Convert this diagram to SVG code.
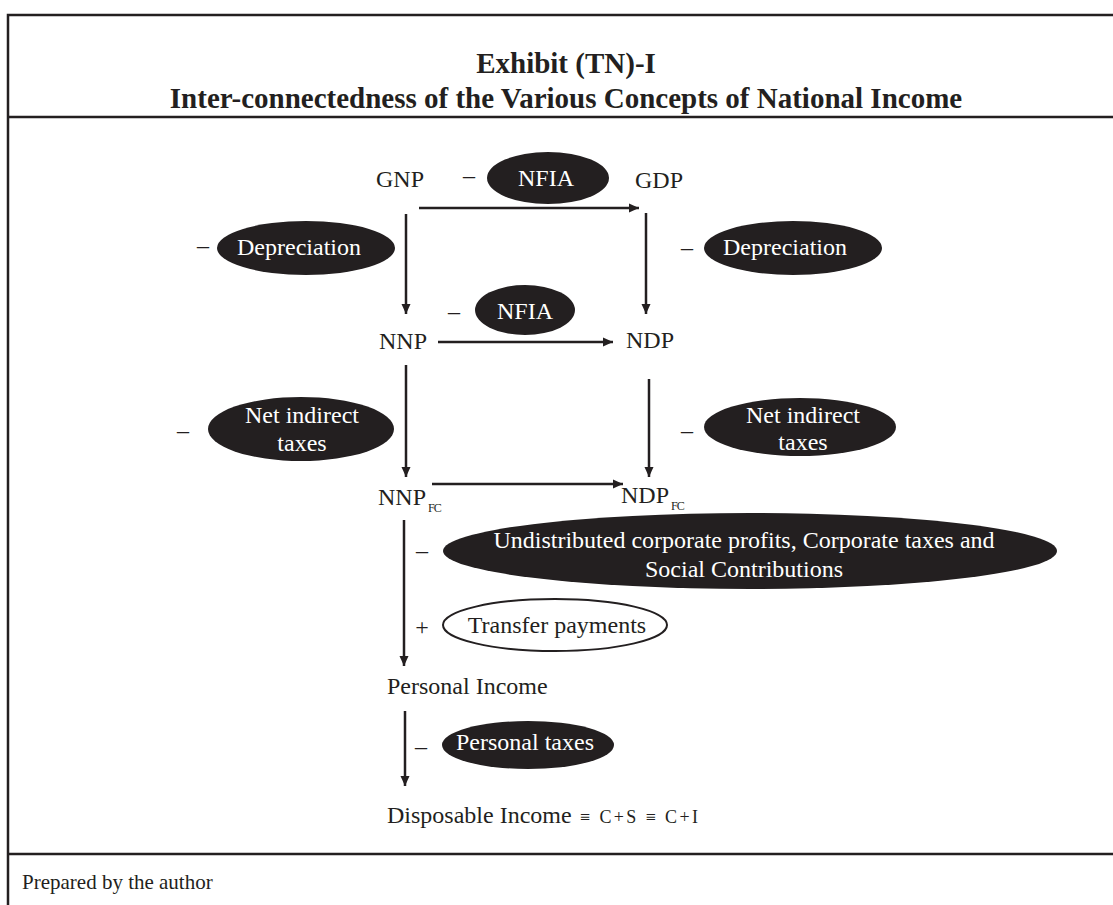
<svg xmlns="http://www.w3.org/2000/svg" width="1113" height="905" viewBox="0 0 1113 905">
<defs>
<marker id="ah" viewBox="0 0 10 10" refX="10" refY="5" markerWidth="10" markerHeight="10" markerUnits="userSpaceOnUse" orient="auto">
<path d="M0,0.5 L10,5 L0,9.5 Z" fill="#231f20"/>
</marker>
<style>
.frame{stroke:#231f20;stroke-width:2.5;fill:none}
.title{font-family:"Liberation Serif","Times New Roman",serif;font-weight:bold;font-size:29px;fill:#231f20;text-anchor:middle}
.t{font-family:"Liberation Serif","Times New Roman",serif;font-size:24px;fill:#231f20}
.sub{font-family:"Liberation Serif","Times New Roman",serif;font-size:12px;fill:#231f20;letter-spacing:-0.8px}
.w{font-family:"Liberation Serif","Times New Roman",serif;font-size:24px;fill:#ffffff;text-anchor:middle}
.d{text-anchor:middle}
.blob{fill:#231f20}
.open{fill:#ffffff;stroke:#231f20;stroke-width:2}
.con{stroke:#231f20;stroke-width:2.5;fill:none;marker-end:url(#ah)}
.foot{font-family:"Liberation Serif","Times New Roman",serif;font-size:21px;fill:#231f20}
.eq{font-family:"Liberation Serif","DejaVu Serif",serif;font-size:18px;fill:#231f20}
</style>
</defs>
<rect width="1113" height="905" fill="#ffffff"/>
<g id="frame">
<path class="frame" d="M8,905 V15 H1113 M8,117 H1113 M8,854 H1113"/>
<text class="title" x="566" y="73">Exhibit (TN)-I</text>
<text class="title" x="566" y="108">Inter-connectedness of the Various Concepts of National Income</text>
</g>
<g id="connectors">
<line class="con" x1="419" y1="208" x2="639" y2="208"/>
<line class="con" x1="406" y1="214" x2="406" y2="314"/>
<line class="con" x1="646" y1="213" x2="646" y2="314"/>
<line class="con" x1="438" y1="342" x2="613" y2="342"/>
<line class="con" x1="406" y1="365" x2="406" y2="477"/>
<line class="con" x1="649" y1="379" x2="649" y2="477"/>
<line class="con" x1="432" y1="484" x2="623" y2="484"/>
<line class="con" x1="404" y1="520" x2="404" y2="666"/>
<line class="con" x1="405" y1="711" x2="405" y2="786"/>
</g>
<g id="gnp"><text class="t" x="376" y="187">GNP</text></g>
<g id="gdp"><text class="t" x="635" y="188">GDP</text></g>
<g id="nnp"><text class="t" x="379" y="349">NNP</text></g>
<g id="ndp"><text class="t" x="626" y="348">NDP</text></g>
<g id="nnpfc"><text class="t" x="378" y="505">NNP</text><text class="sub" x="428" y="512">FC</text></g>
<g id="ndpfc"><text class="t" x="621" y="503">NDP</text><text class="sub" x="671" y="510">FC</text></g>
<g id="personal-income"><text class="t" x="387" y="694">Personal Income</text></g>
<g id="disposable-income"><text class="t" x="387" y="823">Disposable Income</text><text class="eq" x="580" y="823" textLength="118" lengthAdjust="spacing">≡ C+S ≡ C+I</text></g>
<g id="nfia-1">
<text class="t d" x="469" y="183">–</text>
<ellipse class="blob" cx="548" cy="178" rx="61" ry="26"/>
<text class="w" x="546" y="186">NFIA</text>
</g>
<g id="depreciation-left">
<text class="t d" x="203" y="253">–</text>
<ellipse class="blob" cx="306" cy="248" rx="89" ry="27"/>
<text class="w" x="299" y="255">Depreciation</text>
</g>
<g id="depreciation-right">
<text class="t d" x="687" y="255">–</text>
<ellipse class="blob" cx="793" cy="248" rx="89" ry="27"/>
<text class="w" x="785" y="255">Depreciation</text>
</g>
<g id="nfia-2">
<text class="t d" x="454" y="319">–</text>
<ellipse class="blob" cx="525" cy="310" rx="50" ry="25"/>
<text class="w" x="525" y="319">NFIA</text>
</g>
<g id="nit-left">
<text class="t d" x="183" y="438">–</text>
<ellipse class="blob" cx="301" cy="429" rx="93" ry="32"/>
<text class="w" x="302" y="423">Net indirect</text>
<text class="w" x="302" y="451">taxes</text>
</g>
<g id="nit-right">
<text class="t d" x="687" y="438">–</text>
<ellipse class="blob" cx="800" cy="427" rx="96" ry="29"/>
<text class="w" x="803" y="423">Net indirect</text>
<text class="w" x="803" y="450">taxes</text>
</g>
<g id="undistributed">
<text class="t d" x="422" y="558">–</text>
<ellipse class="blob" cx="750" cy="551" rx="307" ry="38"/>
<text class="w" x="744" y="548">Undistributed corporate profits, Corporate taxes and</text>
<text class="w" x="744" y="577">Social Contributions</text>
</g>
<g id="transfer-payments">
<text class="t d" x="422" y="635">+</text>
<ellipse class="open" cx="555" cy="625" rx="112" ry="26"/>
<text class="t d" x="557" y="633">Transfer payments</text>
</g>
<g id="personal-taxes">
<text class="t d" x="421" y="754">–</text>
<ellipse class="blob" cx="528" cy="745" rx="86" ry="24"/>
<text class="w" x="525" y="750">Personal taxes</text>
</g>
<g id="footer"><text class="foot" x="22" y="889">Prepared by the author</text></g>
</svg>
